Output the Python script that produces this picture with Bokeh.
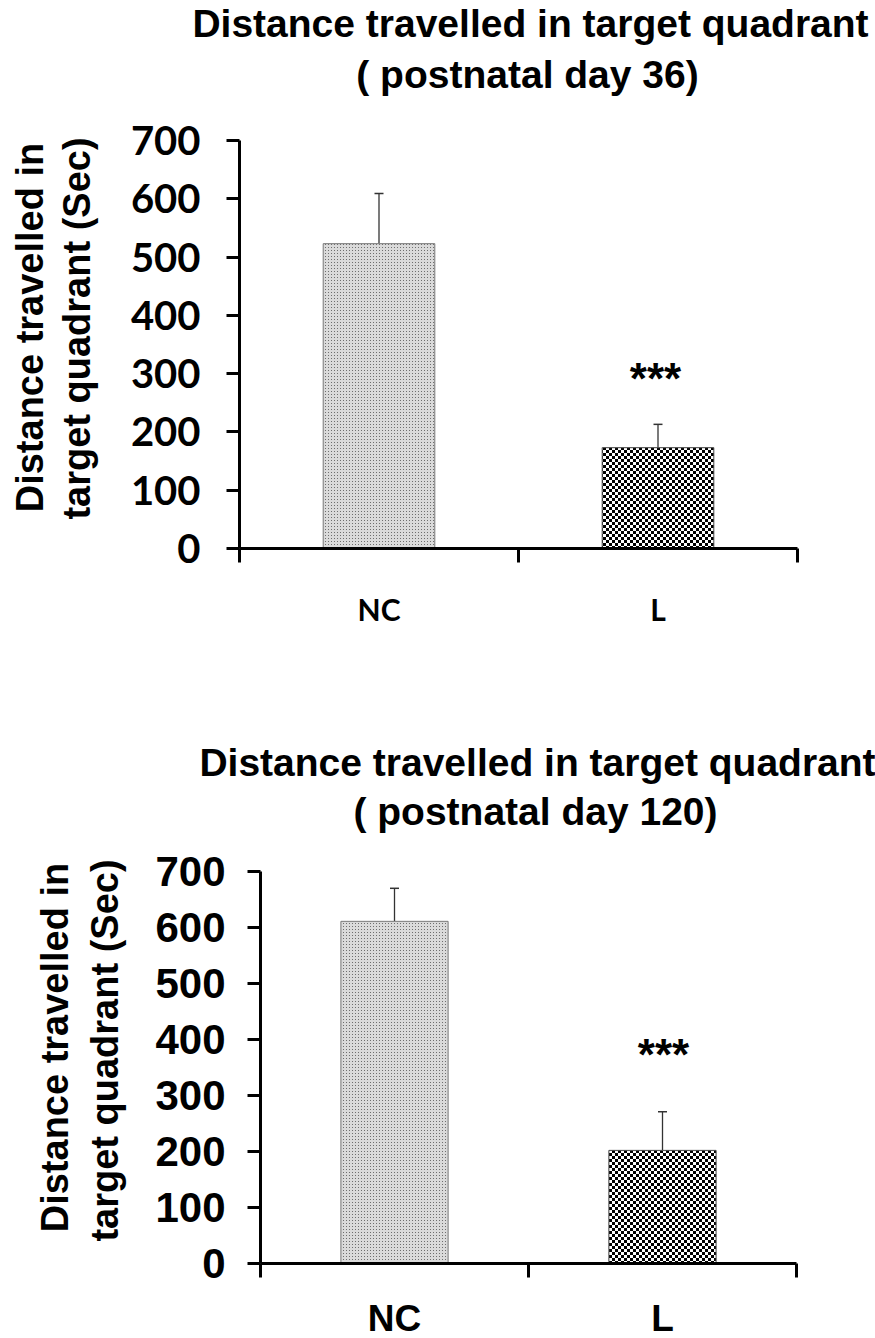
import zlib, struct, base64
from bokeh.plotting import figure
from bokeh.models import (Range1d, FixedTicker, Label, LabelSet, ColumnDataSource,
                          Whisker, TeeHead, ImageURLTexture)
from bokeh.layouts import column
from bokeh.embed import file_html
from bokeh.resources import INLINE
from bokeh.core.properties import value

# ---------------- data ----------------
categories = ["NC", "L"]
y_ticks = [0, 100, 200, 300, 400, 500, 600, 700]

day36_mean = [523, 173]
day36_sem = [86, 40]

day120_mean = [611, 202]
day120_sem = [59, 69]

title_line1 = "Distance travelled in target quadrant"
title36_line2 = "( postnatal day 36)"
title120_line2 = "( postnatal day 120)"
ylabel_line1 = "Distance travelled in"
ylabel_line2 = "target quadrant (Sec)"
sig_mark = "***"

FIG_W = 875
LABEL_SHIFT = 14   # Label baseline correction (px)


def tile_png(pixels):
    """Encode a small RGB tile (list of rows of (r, g, b)) as a PNG data URI."""
    h = len(pixels)
    w = len(pixels[0])
    raw = b"".join(b"\x00" + b"".join(bytes(px) for px in row) for row in pixels)

    def chunk(t, d):
        return (struct.pack(">I", len(d)) + t + d +
                struct.pack(">I", zlib.crc32(t + d) & 0xffffffff))
    png = (b"\x89PNG\r\n\x1a\n" +
           chunk(b"IHDR", struct.pack(">IIBBBBB", w, h, 8, 2, 0, 0, 0)) +
           chunk(b"IDAT", zlib.compress(raw)) + chunk(b"IEND", b""))
    return "data:image/png;base64," + base64.b64encode(png).decode()


def checker_tile(cell, dark, light):
    size = 2 * cell
    return [[dark if ((x // cell) + (y // cell)) % 2 == 0 else light
             for x in range(size)] for y in range(size)]


def stipple_tile(period, dot, bg):
    return [[dot if (x == period // 2 and y == period // 2) else bg
             for x in range(period)] for y in range(period)]


NC_TEXTURE = tile_png(stipple_tile(3, (110, 110, 110), (218, 218, 218)))
L_TEXTURE = tile_png(checker_tile(3, (0, 0, 0), (255, 255, 255)))


def make_panel(means, sems, line2, L):
    n = len(categories)
    ymax = y_ticks[-1]
    ux = (L["ax_right"] - L["ax_left"]) / n
    uy = (L["ax_bottom"] - L["ax_top"]) / ymax
    fig_bottom = L["top_px"] + L["height"]

    def sy(py):
        return fig_bottom - (py - LABEL_SHIFT)

    p = figure(frame_width=FIG_W, frame_height=L["height"],
               min_border_left=0, min_border_right=0,
               min_border_top=0, min_border_bottom=0,
               x_range=Range1d(-L["ax_left"] / ux, (FIG_W - L["ax_left"]) / ux),
               y_range=Range1d(-(fig_bottom - L["ax_bottom"]) / uy,
                               (L["ax_bottom"] - L["top_px"]) / uy),
               output_backend="svg", toolbar_location=None, tools="")
    p.outline_line_color = None
    p.xgrid.visible = False
    p.ygrid.visible = False
    p.background_fill_color = "white"
    p.border_fill_color = "white"

    pos = [i + 0.5 for i in range(n)]
    src = ColumnDataSource(dict(
        x=pos, top=means, upper=[m + s for m, s in zip(means, sems)],
        lower=means, cat=categories, pat=["nc_tex", "l_tex"],
        edge=["#777777", "#444444"],
    ))

    p.vbar(x="x", top="top", width=0.4, source=src, fill_color="white",
           line_color="edge", line_width=1, hatch_pattern="pat",
           hatch_extra={"nc_tex": ImageURLTexture(url=NC_TEXTURE),
                        "l_tex": ImageURLTexture(url=L_TEXTURE)})

    wh = Whisker(base="x", upper="upper", lower="lower", source=src,
                 lower_head=None,
                 upper_head=TeeHead(size=9, line_color="#333333", line_width=1.5),
                 line_color="#333333", line_width=1.3)
    p.add_layout(wh)

    # significance stars over L
    star_base_px = L["star_c"][1] + 4
    p.text(x=[pos[1]], y=[(L["ax_bottom"] - star_base_px) / uy], text=[sig_mark],
           x_offset=L["star_c"][0] - (L["ax_left"] + pos[1] * ux),
           text_font=value("Liberation Sans"), text_font_style="bold",
           text_font_size=L["sig_fs"], text_align="center",
           text_baseline="alphabetic", text_color="black")

    # axes drawn at data zero inside the frame
    ya = p.yaxis[0]
    ya.fixed_location = 0
    ya.bounds = (0, ymax)
    ya.ticker = FixedTicker(ticks=y_ticks)
    ya.minor_tick_line_color = None
    ya.major_tick_in = 0
    ya.major_tick_out = 13
    ya.axis_line_width = 3
    ya.major_tick_line_width = 3
    ya.major_label_standoff = L["y_standoff"]
    ya.major_label_text_font = L["tick_font"]
    ya.major_label_text_font_style = "bold"
    ya.major_label_text_font_size = L["tick_fs"]
    ya.major_label_text_color = "black"

    xa = p.xaxis[0]
    xa.fixed_location = 0
    xa.bounds = (0, n)
    xa.ticker = FixedTicker(ticks=list(range(n + 1)))
    xa.major_label_overrides = {i: "" for i in range(n + 1)}
    xa.minor_tick_line_color = None
    xa.major_tick_in = 0
    xa.major_tick_out = 14
    xa.axis_line_width = 3
    xa.major_tick_line_width = 3

    # category labels
    p.add_layout(LabelSet(x="x", y=fig_bottom - L["cat_base"], y_units="screen",
                          text="cat", source=src, text_font=value(L["cat_font"]),
                          text_font_style="bold",
                          text_font_size=L["cat_fs"], text_align="center",
                          text_baseline="alphabetic", text_color="black"))

    # title (two lines)
    for txt, (tx, ty) in zip([title_line1, line2], L["title_xy"]):
        p.add_layout(Label(x=tx, y=sy(ty), x_units="screen", y_units="screen",
                           text=txt, text_font="Liberation Sans",
                           text_font_style="bold", text_font_size=L["title_fs"],
                           text_align="center", text_baseline="alphabetic",
                           text_color="black"))

    # y axis label (two lines, rotated)
    for txt, (tx, ty) in zip([ylabel_line1, ylabel_line2], L["ylab_xy"]):
        p.add_layout(Label(x=tx - LABEL_SHIFT, y=fig_bottom - ty,
                           x_units="screen", y_units="screen",
                           text=txt, angle=90, angle_units="deg",
                           text_font="Liberation Sans", text_font_style="bold",
                           text_font_size=L["ylab_fs"], text_align="center",
                           text_baseline="alphabetic", text_color="black"))
    return p


# pixel layout of each panel within the page (positions only, no data)
layout36 = dict(top_px=0, height=640, ax_left=239, ax_right=797, ax_top=140, ax_bottom=548,
                star_c=(655, 374), sig_fs="44px", y_standoff=26,
                tick_font="Lato", tick_fs="40px",
                cat_base=620, cat_font="Lato", cat_fs="30px",
                title_xy=[(530, 37), (527, 88)], title_fs="39px",
                ylab_xy=[(43, 327), (90, 328)], ylab_fs="38px")

layout120 = dict(top_px=640, height=698, ax_left=260, ax_right=796, ax_top=871, ax_bottom=1263,
                 star_c=(663, 1050), sig_fs="44px", y_standoff=22,
                 tick_font="Liberation Sans", tick_fs="42px",
                 cat_base=1330, cat_font="Liberation Sans", cat_fs="37px",
                 title_xy=[(537, 776), (535, 825)], title_fs="39px",
                 ylab_xy=[(68, 1047), (118, 1050)], ylab_fs="38px")

p1 = make_panel(day36_mean, day36_sem, title36_line2, layout36)
p2 = make_panel(day120_mean, day120_sem, title120_line2, layout120)

page = column(p1, p2, spacing=0)
open("out.html", "w").write(file_html(page, INLINE))
